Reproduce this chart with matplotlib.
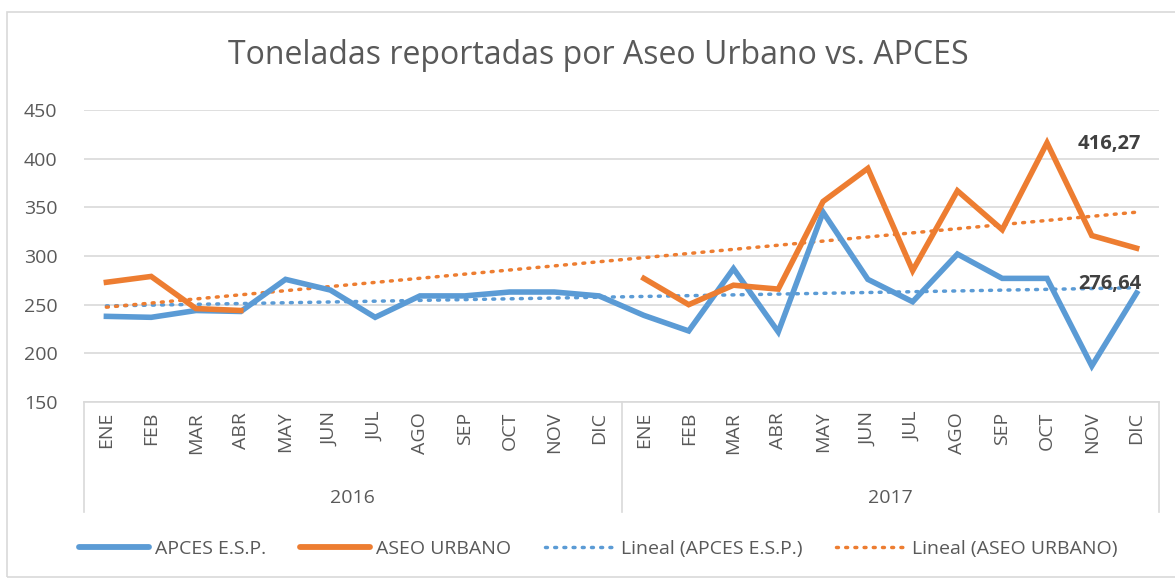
import numpy as np
import matplotlib.pyplot as plt
from matplotlib.lines import Line2D

# datos
meses = ["ENE", "FEB", "MAR", "ABR", "MAY", "JUN", "JUL", "AGO", "SEP", "OCT", "NOV", "DIC"]
anios = ["2016", "2017"]

apces = [238, 237, 244, 243, 276, 265, 237, 259, 259, 263, 263, 259,
         239, 223, 287, 222, 345, 276, 253, 302, 277, 277, 187, 262]
aseo = [273, 279, 246, 244, None, None, None, None, None, None, None, None,
        277, 250, 270, 266, 356, 390, 285, 367, 327, 416.27, 321, 308]

etiqueta_aseo = "416,27"
etiqueta_apces = "276,64"

AZUL = "#5B9BD5"
NARANJA = "#ED7D31"
GRIS = "#595959"

plt.rcParams['font.family'] = ['Open Sans', 'DejaVu Sans']

fig = plt.figure(figsize=(11.75, 5.81), dpi=100)
ax = fig.add_axes([84 / 1175, 1 - 402 / 581, (1159 - 84) / 1175, (402 - 110) / 581])

x = np.arange(len(apces))
y_apces = np.array(apces, dtype=float)
y_aseo = np.array([np.nan if v is None else v for v in aseo], dtype=float)

# series
ax.plot(x, y_apces, color=AZUL, lw=4, solid_joinstyle='miter', zorder=3)
ax.plot(x, y_aseo, color=NARANJA, lw=4, solid_joinstyle='miter', zorder=3)

# lineas de tendencia
punteado = (0, (0.55, 2.1))
for y, c in [(y_apces, AZUL), (y_aseo, NARANJA)]:
    ok = ~np.isnan(y)
    m, b = np.polyfit(x[ok] + 1, y[ok], 1)
    xs = np.array([0, len(x) - 1])
    ax.plot(xs, m * (xs + 1) + b, color=c, lw=2.5, ls=punteado,
            dash_capstyle='round', zorder=2)

ax.text(23.1, 415, etiqueta_aseo, fontsize=14.5, fontweight='bold', color="#404040",
        ha='right', va='center')
ax.text(23.1, 271, etiqueta_apces, fontsize=14.5, fontweight='bold', color="#404040",
        ha='right', va='center')

ax.set_xlim(-0.5, len(x) - 0.5)
ax.set_ylim(150, 450)
ax.set_yticks(range(150, 451, 50))
ax.grid(axis='y', color="#D9D9D9", lw=1.2)
ax.set_axisbelow(True)
for s in ['top', 'right', 'left']:
    ax.spines[s].set_visible(False)
ax.spines['bottom'].set_color("#D9D9D9")
ax.spines['bottom'].set_linewidth(1.2)
ax.tick_params(axis='y', length=0, labelsize=14, labelcolor=GRIS, pad=19)
ax.set_xticks([])

# eje de categorias con dos niveles
for i in range(len(x)):
    ax.text(i, -0.033, meses[i % 12], transform=ax.get_xaxis_transform(), rotation=90,
            ha='center', va='top', fontsize=14, color=GRIS)
for k, a in enumerate(anios):
    ax.text(5.5 + 12 * k, -0.33, a, transform=ax.get_xaxis_transform(),
            ha='center', va='center', fontsize=14, color=GRIS)
for xv in [-0.5, 11.5, 23.5]:
    ax.add_line(Line2D([xv, xv], [0, -(512 - 402) / 292], transform=ax.get_xaxis_transform(),
                       color="#D9D9D9", lw=1.2, clip_on=False))

fig.text(0.509, 1 - 56 / 581, "Toneladas reportadas por Aseo Urbano vs. APCES",
         ha='center', va='center', fontsize=23, color=GRIS)

# borde del grafico
fig.add_artist(plt.Rectangle((7 / 1175, 4 / 581), 1.2, 1 - 16 / 581, transform=fig.transFigure,
                             fill=False, edgecolor="#D9D9D9", lw=1.2))

handles = [Line2D([], [], color=AZUL, lw=4.2, solid_capstyle='round'),
           Line2D([], [], color=NARANJA, lw=4.2, solid_capstyle='round'),
           Line2D([], [], color=AZUL, lw=2.5, ls=punteado, dash_capstyle='round'),
           Line2D([], [], color=NARANJA, lw=2.5, ls=punteado, dash_capstyle='round')]
labels = ["APCES E.S.P.", "ASEO URBANO", "Lineal (APCES E.S.P.)", "Lineal (ASEO URBANO)"]
fig.legend(handles, labels, loc='center', bbox_to_anchor=(0.509, 1 - 549 / 581), ncol=4,
           frameon=False, fontsize=14, labelcolor=GRIS, handlelength=3.6,
           handletextpad=0.3, columnspacing=1.75)

fig.savefig("out.png", dpi=100)
